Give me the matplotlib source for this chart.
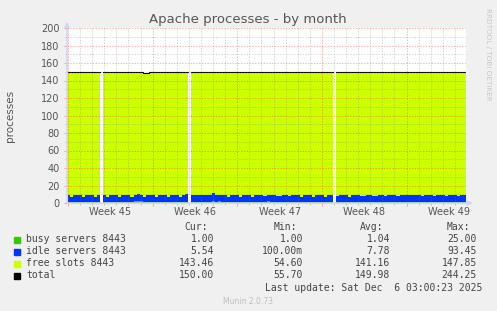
import numpy as np
import pandas as pd
import matplotlib
matplotlib.use('Agg')
import matplotlib.pyplot as plt
import matplotlib.dates as mdates
from matplotlib.patches import Rectangle
from matplotlib.ticker import MultipleLocator, NullFormatter
from matplotlib.transforms import blended_transform_factory

nan = np.nan

# 6 hour samples starting 2025-11-02 22:00, one row per day
busy = [
    1.0, 1.0, 1.0, 1.0,
    1.0, 1.0, 1.0, 1.0,
    1.0, 1.0, 1.0, nan,
    1.0, 1.0, 1.0, 1.0,
    1.0, 1.0, 1.0, 1.0,
    1.0, 1.0, 2.6, 2.4,
    2.2, 1.0, 1.0, 1.0,
    1.0, 1.0, 1.0, 1.0,
    1.0, 1.0, 1.0, 1.0,
    1.0, 1.0, 1.0, 1.0,
    nan, 1.0, 1.0, 1.0,
    1.0, 1.0, 1.0, 1.0,
    2.0, 1.0, 1.8, 1.0,
    1.0, 1.0, 1.0, 1.0,
    1.0, 1.0, 1.0, 1.0,
    1.0, 1.0, 1.0, 1.0,
    1.0, 1.0, 1.8, 1.0,
    1.0, 1.0, 1.0, 1.0,
    1.0, 1.0, 1.0, 1.0,
    1.0, 1.0, 1.0, 1.0,
    1.0, 1.0, 1.0, 1.0,
    1.0, 1.0, 1.0, 1.0,
    nan, 1.0, 1.0, 1.0,
    1.0, 1.0, 1.0, 1.0,
    1.0, 1.0, 1.0, 1.0,
    1.0, 1.0, 1.0, 1.0,
    1.0, 1.0, 1.0, 1.0,
    1.0, 1.0, 1.0, 1.0,
    1.0, 1.0, 1.0, 1.0,
    1.0, 1.0, 1.0, 1.0,
    1.0, 1.0, 1.0, 1.0,
    1.0, 1.0, 1.0, 1.0,
    1.0, 1.0, 1.0, 1.0,
]

idle = [
    8.4, 6.2, 7.8, 8.6,
    8.3, 5.7, 8.1, 8.5,
    8.6, 6.0, 7.9, nan,
    8.2, 5.8, 8.0, 8.4,
    8.5, 6.1, 7.6, 8.3,
    8.7, 5.9, 7.0, 7.4,
    7.2, 6.3, 7.9, 8.2,
    8.6, 5.6, 8.3, 8.7,
    8.3, 5.9, 8.0, 8.4,
    8.1, 5.5, 7.8, 8.9,
    nan, 7.9, 8.1, 8.3,
    8.2, 8.0, 8.3, 8.1,
    9.6, 7.7, 7.4, 8.0,
    8.3, 5.6, 8.1, 8.4,
    8.2, 6.4, 7.9, 8.3,
    8.5, 5.8, 8.2, 8.1,
    7.9, 6.9, 7.5, 8.2,
    8.1, 7.0, 7.4, 8.0,
    8.4, 6.5, 8.1, 8.3,
    8.2, 6.1, 7.9, 8.5,
    8.0, 6.2, 8.3, 8.1,
    8.3, 5.8, 7.7, 8.4,
    nan, 7.2, 8.0, 8.2,
    7.6, 6.4, 7.9, 8.3,
    8.1, 6.8, 7.5, 8.2,
    7.9, 7.1, 7.3, 7.8,
    8.2, 6.9, 7.6, 7.7,
    7.8, 7.4, 7.9, 8.0,
    8.1, 7.6, 7.8, 8.2,
    8.3, 6.9, 8.0, 8.4,
    8.0, 7.2, 7.7, 8.3,
    8.2, 6.6, 8.1, 8.0,
    7.9, 6.8, 7.8, 8.3,
]

total = [
    150, 150, 150, 150,
    150, 150, 150, 150,
    150, 150, 150, nan,
    150, 150, 150, 150,
    150, 150, 150, 150,
    150, 150, 150, 150,
    150, 148.5, 148.5, 150,
    150, 150, 150, 150,
    150, 150, 150, 150,
    150, 150, 150, 150,
    nan, 150, 150, 150,
    150, 150, 150, 150,
    150, 150, 150, 150,
    150, 150, 150, 150,
    150, 150, 150, 150,
    150, 150, 150, 150,
    150, 150, 150, 150,
    150, 150, 150, 150,
    150, 150, 150, 150,
    150, 150, 150, 150,
    150, 150, 150, 150,
    150, 150, 150, 150,
    nan, 150, 150, 150,
    150, 150, 150, 150,
    150, 150, 150, 150,
    150, 150, 150, 150,
    150, 150, 150, 150,
    150, 150, 150, 150,
    150, 150, 150, 150,
    150, 150, 150, 150,
    150, 150, 150, 150,
    150, 150, 150, 150,
    150, 150, 150, 150,
]

names = ['busy servers 8443', 'idle servers 8443', 'free slots 8443', 'total']
colors = ['#33cc00', '#0033ff', '#ccff00', '#000000']
cur = ['1.00', '5.54', '143.46', '150.00']
mins = ['1.00', '100.00m', '54.60', '55.70']
avgs = ['1.04', '7.78', '141.16', '149.98']
maxs = ['25.00', '93.45', '147.85', '244.25']

W, H = 497, 311
fig = plt.figure(figsize=(W / 100, H / 100), dpi=100, facecolor='#f0f0f0')


def fx(px):
    return px / W


def fy(py):
    return 1 - py / H


ax = fig.add_axes([fx(67), fy(203), (466 - 67) / W, (203 - 28) / H])
ax.set_facecolor('white')

edges = pd.date_range('2025-11-02 22:00', periods=len(busy) + 1, freq='6h')
x = mdates.date2num(edges.to_pydatetime())


def steps(v):
    xs = np.repeat(x, 2)[1:-1]
    ys = np.repeat(np.asarray(v, float), 2)
    return xs, ys


b_arr = np.array(busy, float)
i_arr = np.array(idle, float)
t_arr = np.array(total, float)

xs, lo = steps(b_arr)
_, mid = steps(b_arr + i_arr)
_, top = steps(t_arr)

ax.fill_between(xs, 0, lo, color=colors[0], lw=0)
ax.fill_between(xs, lo, mid, color=colors[1], lw=0)
ax.fill_between(xs, mid, top, color=colors[2], lw=0)
ax.plot(xs, top, color='black', lw=0.8)

ax.set_xlim(x[0], x[-1])
ax.set_ylim(0, 200)

ax.xaxis.set_major_locator(mdates.WeekdayLocator(byweekday=mdates.MO))
ax.xaxis.set_minor_locator(mdates.DayLocator())
ax.xaxis.set_major_formatter(NullFormatter())
ax.yaxis.set_major_locator(MultipleLocator(20))
ax.yaxis.set_minor_locator(MultipleLocator(10))

ax.tick_params(which='major', length=2, width=0.72, color='#f4a0a0',
               labelsize=7, labelcolor='#555555')
ax.tick_params(which='minor', length=1.5, width=0.72, color='#c0c0c0')
ax.tick_params(axis='y', pad=3.5)

ax.set_axisbelow(False)
ax.grid(which='major', color='red', alpha=0.3, lw=0.72, ls=(0, (1.4, 1.4)))
ax.grid(which='minor', color='gray', alpha=0.3, lw=0.72, ls=(0, (1.4, 1.4)))

for s in ['top', 'right']:
    ax.spines[s].set_visible(False)
for s in ['left', 'bottom']:
    ax.spines[s].set_color('#cfd6f8')
    ax.spines[s].set_zorder(5)

arrow_col = '#cfd6f8'
ax.annotate('', xy=(0, 1.035), xytext=(0, 0), xycoords='axes fraction',
            arrowprops=dict(arrowstyle='-|>', color=arrow_col, lw=1,
                            mutation_scale=7, shrinkA=0, shrinkB=0), zorder=6)
ax.annotate('', xy=(1.017, 0), xytext=(0, 0), xycoords='axes fraction',
            arrowprops=dict(arrowstyle='-|>', color=arrow_col, lw=1,
                            mutation_scale=7, shrinkA=0, shrinkB=0), zorder=6)

# week labels sit in the middle of each week
trans = blended_transform_factory(ax.transData, ax.transAxes)
for monday in pd.date_range('2025-10-27', '2025-12-08', freq='W-MON'):
    midweek = mdates.date2num((monday + pd.Timedelta(hours=84)).to_pydatetime())
    if x[0] < midweek < x[-1]:
        ax.text(midweek, -9 / 175, 'Week %d' % monday.isocalendar()[1],
                transform=trans, ha='center', va='center', fontsize=7,
                color='#555555')

fig.text(fx(248), fy(19), 'Apache processes - by month', ha='center',
         va='center', fontsize=9.5, color='#555555')
fig.text(fx(10), fy(115.5), 'processes', rotation=90, ha='center',
         va='center', fontsize=7.5, color='#555555')
fig.text(fx(488), fy(54), 'RRDTOOL / TOBI OETIKER', rotation=270,
         ha='center', va='center', fontsize=5.2, color='#c8c8c8')

# legend block
mono = dict(family='DejaVu Sans Mono', fontsize=7, color='#444444')
row_y = [239.5, 251.5, 263.5, 275.5]
fig.text(fx(208), fy(227), 'Cur:', ha='right', va='center', **mono)
fig.text(fx(297), fy(227), 'Min:', ha='right', va='center', **mono)
fig.text(fx(383), fy(227), 'Avg:', ha='right', va='center', **mono)
fig.text(fx(470), fy(227), 'Max:', ha='right', va='center', **mono)
for k in range(len(names)):
    y = row_y[k]
    fig.patches.append(Rectangle((fx(14), fy(y + 3)), 6 / W, 6 / H,
                                 transform=fig.transFigure, color=colors[k]))
    fig.text(fx(26), fy(y), names[k], ha='left', va='center', **mono)
    fig.text(fx(214), fy(y), cur[k], ha='right', va='center', **mono)
    fig.text(fx(303), fy(y), mins[k], ha='right', va='center', **mono)
    fig.text(fx(390), fy(y), avgs[k], ha='right', va='center', **mono)
    fig.text(fx(477), fy(y), maxs[k], ha='right', va='center', **mono)
fig.text(fx(482), fy(288), 'Last update: Sat Dec  6 03:00:23 2025',
         ha='right', va='center', **mono)
fig.text(fx(248), fy(301), 'Munin 2.0.73', ha='center', va='center',
         fontsize=5.5, color='#c0c0c0')

fig.savefig('out.png', dpi=100, facecolor=fig.get_facecolor())
